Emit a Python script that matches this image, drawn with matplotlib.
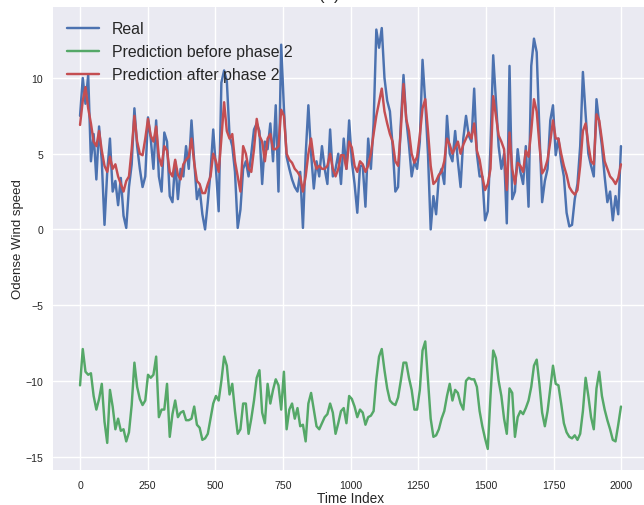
import numpy as np
import matplotlib
matplotlib.use("Agg")
import matplotlib.pyplot as plt

# values, one every ~10 time steps
real = [7.5, 10.0, 8.3, 10.2, 4.5, 6.3, 3.3, 6.8, 4.5, 0.3,
        3.8, 6.0, 2.5, 3.2, 1.6, 3.4, 0.9, 0.1, 2.8, 4.3,
        8.0, 5.5, 4.0, 2.8, 3.5, 7.4, 6.0, 4.0, 7.2, 3.5,
        2.5, 6.4, 5.8, 2.2, 1.8, 4.5, 2.0, 4.0, 3.5, 5.5,
        4.0, 7.2, 4.5, 2.0, 2.7, 1.0, 0.0, 1.8, 3.8, 6.6,
        4.0, 1.2, 9.7, 10.5, 9.8, 6.2, 5.5, 3.8, 0.1, 1.3,
        4.0, 4.5, 3.5, 5.0, 6.6, 7.0, 6.5, 3.0, 5.8, 5.3,
        7.0, 4.5, 8.2, 2.5, 12.2, 8.0, 4.8, 4.0, 3.3, 2.8,
        2.5, 3.8, 0.1, 4.9, 8.2, 5.0, 2.7, 4.5, 3.5, 5.5,
        4.0, 3.0, 6.6, 3.5, 4.0, 5.0, 3.0, 6.0, 4.0, 7.2,
        4.5, 3.0, 1.1, 4.2, 4.2, 1.5, 6.0, 4.0, 7.0, 13.2,
        12.0, 13.3, 10.0, 8.5, 7.8, 5.5, 2.5, 2.8, 7.0, 10.2,
        7.3, 5.6, 3.5, 4.5, 4.0, 5.8, 11.2, 8.4, 5.0, 0.0,
        2.2, 1.0, 3.5, 4.0, 3.0, 7.5, 5.0, 4.5, 6.5, 4.5,
        2.8, 6.0, 7.5, 6.2, 5.8, 9.3, 5.0, 3.5, 3.5, 0.6,
        1.2, 5.5, 11.5, 8.5, 5.5, 4.0, 5.0, 0.4, 10.8, 2.0,
        2.5, 5.3, 3.8, 3.0, 5.5, 1.5, 10.8, 12.6, 11.7, 6.5,
        1.8, 3.2, 4.0, 7.2, 8.2, 4.9, 6.0, 4.5, 3.5, 1.1,
        0.2, 0.3, 2.0, 3.0, 5.5, 10.4, 7.6, 5.0, 4.2, 3.5,
        8.6, 7.0, 5.5, 3.5, 1.8, 2.5, 0.6, 2.2, 1.0, 5.5]

pred_before = [-10.3, -7.9, -9.4, -9.6, -9.5, -11.0, -11.9, -11.2, -10.2, -12.7,
               -14.1, -10.6, -11.7, -13.2, -12.5, -13.3, -13.2, -14.0, -13.4, -11.6,
               -8.8, -10.4, -11.2, -11.6, -11.3, -9.6, -9.8, -9.6, -8.4, -12.4,
               -11.9, -11.9, -10.2, -13.7, -12.2, -11.3, -12.4, -12.1, -12.0, -12.6,
               -12.6, -12.5, -11.7, -12.9, -13.1, -13.9, -13.8, -13.5, -12.5, -11.5,
               -11.0, -11.3, -10.0, -8.4, -9.0, -10.9, -10.2, -12.0, -13.5, -13.2,
               -11.5, -11.5, -13.5, -12.5, -11.3, -9.8, -9.3, -12.1, -12.8, -10.2,
               -11.5, -10.6, -9.9, -10.3, -11.9, -9.4, -13.2, -11.9, -11.5, -12.5,
               -11.8, -13.0, -12.9, -14.0, -11.5, -10.8, -11.9, -13.0, -13.2, -12.8,
               -12.4, -12.2, -11.5, -12.1, -13.5, -12.8, -12.0, -11.8, -12.8, -11.0,
               -11.2, -11.7, -12.4, -11.9, -12.1, -12.9, -12.4, -12.3, -12.0, -9.9,
               -8.4, -7.9, -9.3, -10.5, -11.3, -11.5, -11.6, -11.1, -10.0, -8.8,
               -8.8, -9.8, -10.6, -11.9, -11.9, -10.6, -8.0, -7.4, -9.9, -12.5,
               -13.7, -13.6, -13.2, -12.5, -12.0, -11.0, -10.2, -11.3, -10.6, -10.8,
               -11.5, -11.9, -10.0, -9.8, -9.9, -9.9, -10.4, -12.0, -13.0, -13.8,
               -14.5, -11.0, -8.0, -8.5, -10.0, -11.0, -12.5, -13.5, -10.5, -10.8,
               -13.7, -12.4, -12.0, -12.2, -11.8, -11.3, -10.4, -9.0, -8.6, -10.2,
               -12.1, -13.0, -12.0, -10.5, -9.0, -10.2, -10.3, -11.5, -12.8, -13.4,
               -13.7, -13.8, -13.6, -13.9, -13.5, -12.0, -9.8, -11.0, -12.4, -13.2,
               -10.5, -9.4, -11.0, -11.9, -12.6, -13.2, -13.9, -14.0, -12.9, -11.7]

pred_after = [6.9, 8.5, 9.4, 8.0, 7.0, 5.8, 5.5, 6.5, 5.2, 4.2,
              3.8, 4.8, 4.0, 4.3, 3.5, 3.0, 2.5, 3.2, 3.5, 5.3,
              7.5, 5.8, 5.0, 4.9, 6.0, 7.3, 6.2, 5.8, 6.8, 4.8,
              4.2, 5.5, 5.2, 3.8, 3.5, 4.6, 3.6, 3.3, 4.3, 4.6,
              4.8, 6.0, 4.4, 3.2, 3.0, 2.4, 2.4, 3.0, 3.5, 5.0,
              4.5, 3.8, 6.0, 8.4, 6.5, 6.0, 6.3, 4.5, 3.5, 2.5,
              5.5, 5.0, 4.0, 3.8, 5.3, 7.3, 6.2, 5.8, 4.5, 6.0,
              6.3, 5.3, 5.3, 5.5, 7.9, 7.5, 5.0, 4.6, 4.4, 4.0,
              3.8, 3.5, 2.5, 3.5, 5.0, 6.0, 4.6, 4.0, 4.2, 4.0,
              4.0, 4.2, 5.0, 4.0, 3.5, 4.0, 4.9, 4.9, 4.0, 5.8,
              5.4, 4.2, 3.8, 4.5, 4.3, 3.8, 4.2, 5.0, 6.3, 7.5,
              8.4, 9.3, 7.8, 7.0, 6.3, 5.8, 4.5, 4.2, 6.5, 9.6,
              7.3, 6.5, 5.0, 4.4, 4.8, 6.2, 8.0, 8.6, 6.5, 4.2,
              3.0, 3.2, 3.6, 3.8, 4.5, 6.0, 5.6, 5.0, 5.4, 5.8,
              5.0, 5.6, 6.0, 6.4, 6.0, 7.0, 5.2, 4.6, 3.5, 2.6,
              3.0, 4.0, 8.8, 7.5, 6.2, 5.8, 5.3, 2.6, 6.4, 4.0,
              3.0, 4.4, 4.2, 3.8, 5.2, 4.8, 6.5, 8.6, 7.8, 5.6,
              3.7, 4.0, 4.6, 5.8, 7.2, 6.0, 6.0, 5.0, 4.2, 3.6,
              2.8, 2.5, 2.3, 2.6, 4.2, 6.5, 7.0, 5.6, 4.5, 4.3,
              7.6, 7.2, 5.9, 4.5, 4.0, 3.5, 3.3, 3.0, 3.4, 4.3]

labels = ["Real", "Prediction before phase 2", "Prediction after phase 2"]

time_index = np.linspace(0, 1999, len(real))

plt.style.use("seaborn-v0_8")
plt.rcParams["font.family"] = ["Liberation Sans", "DejaVu Sans"]

fig = plt.figure(figsize=(6.44, 5.06), dpi=100)
ax = fig.add_axes([53 / 644, 35 / 506, 595 / 644, 463 / 506])

ax.plot(time_index, real, label=labels[0])
ax.plot(time_index, pred_before, label=labels[1])
ax.plot(time_index, pred_after, label=labels[2])

ax.set_title("(a)", fontsize=12, x=(329 - 53) / 595)
ax.set_xlabel("Time Index", fontsize=9.8, labelpad=1)
ax.set_ylabel("Odense Wind speed", fontsize=9.5, labelpad=1)
ax.tick_params(labelsize=7.6)
ax.legend(loc="upper left", fontsize=11.4, frameon=False)

fig.savefig("out.png", dpi=100)
